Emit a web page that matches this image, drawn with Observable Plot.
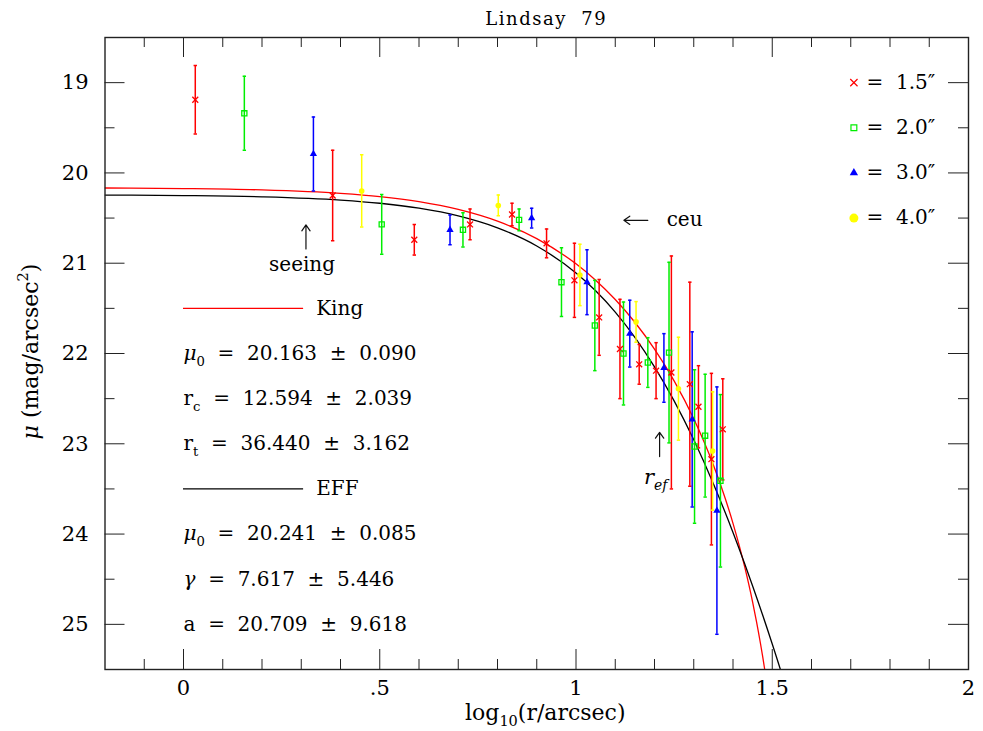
<!DOCTYPE html>
<html>
<head>
<meta charset="utf-8">
<script src="https://cdn.jsdelivr.net/npm/d3@7"></script>
<script src="https://cdn.jsdelivr.net/npm/@observablehq/plot@0.6"></script>
<style>
  html, body { margin: 0; padding: 0; background: #fff; }
  #chart svg { display: block; }
</style>
</head>
<body>
<div id="chart"></div>
<script>
// ---------------- data ----------------
const titleText = "Lindsay  79";
const xAxisTitle = "log_{10}(r/arcsec)";
const yAxisTitle = "*{μ} (mag/arcsec^{2})";

const xTicksMajor = [0, 0.5, 1, 1.5, 2];
const xTickLabels = ["0", ".5", "1", "1.5", "2"];
const xTicksMinor = [-0.1, 0.1, 0.2, 0.3, 0.4, 0.6, 0.7, 0.8, 0.9, 1.1, 1.2, 1.3, 1.4, 1.6, 1.7, 1.8, 1.9];
const yTicksMajor = [19, 20, 21, 22, 23, 24, 25];
const yTicksMinor = [19.5, 20.5, 21.5, 22.5, 23.5, 24.5];

const seriesNames = ["1.5″", "2.0″", "3.0″", "4.0″"];

// aperture 1.5"
const s15_logr = [0.030, 0.380, 0.588, 0.730, 0.837, 0.925, 0.996, 1.059, 1.112, 1.161, 1.204, 1.243, 1.290, 1.312, 1.345, 1.374];
const s15_mu   = [19.19, 20.25, 20.74, 20.57, 20.46, 20.78, 21.19, 21.60, 21.95, 22.12, 22.19, 22.21, 22.34, 22.59, 23.17, 22.84];
const s15_err  = [0.38, 0.50, 0.17, 0.17, 0.125, 0.16, 0.41, 0.42, 0.55, 0.22, 0.31, 1.29, 1.13, 0.455, 0.95, 0.56];
// aperture 2.0"
const s20_logr = [0.155, 0.505, 0.712, 0.855, 0.963, 1.048, 1.121, 1.183, 1.237, 1.302, 1.329, 1.368];
const s20_mu   = [19.34, 20.57, 20.63, 20.52, 21.21, 21.69, 22.00, 22.10, 21.99, 23.03, 22.91, 23.41];
const s20_err  = [0.41, 0.33, 0.19, 0.12, 0.38, 0.50, 0.57, 0.275, 1.00, 0.85, 0.68, 0.955];
// aperture 3.0"
const s30_logr = [0.331, 0.679, 0.887, 1.028, 1.137, 1.224, 1.296, 1.359];
const s30_mu   = [19.79, 20.63, 20.50, 21.21, 21.78, 22.16, 22.73, 23.74];
const s30_err  = [0.41, 0.165, 0.11, 0.36, 0.37, 0.38, 0.97, 1.37];
// aperture 4.0"
const s40_logr = [0.454, 0.802, 1.010, 1.153, 1.261, 1.348];
const s40_mu   = [20.20, 20.36, 21.13, 21.65, 22.39, 23.08];
const s40_err  = [0.40, 0.115, 0.34, 0.225, 0.57, 0.655];

// King fit curve
const king_logr = [-0.2, 0, 0.2, 0.4, 0.5, 0.6, 0.7, 0.8, 0.9, 1.0, 1.05, 1.1, 1.15, 1.2, 1.25, 1.3, 1.35, 1.4, 1.43, 1.45, 1.46, 1.47, 1.48, 1.49];
const king_mu   = [20.167, 20.173, 20.188, 20.226, 20.262, 20.318, 20.405, 20.535, 20.728, 21.007, 21.188, 21.402, 21.654, 21.952, 22.303, 22.723, 23.235, 23.881, 24.367, 24.753, 24.972, 25.212, 25.478, 25.777];
// EFF fit curve
const eff_logr = [-0.2, 0, 0.2, 0.4, 0.5, 0.6, 0.7, 0.8, 0.9, 1.0, 1.05, 1.1, 1.15, 1.2, 1.25, 1.3, 1.35, 1.4, 1.43, 1.45, 1.5, 1.55];
const eff_mu   = [20.245, 20.251, 20.265, 20.301, 20.336, 20.391, 20.476, 20.608, 20.809, 21.108, 21.305, 21.541, 21.821, 22.148, 22.525, 22.956, 23.442, 23.982, 24.332, 24.575, 25.217, 25.906];

// fit parameters
const kingName = "King";
const kingParamNames = ["*{μ}_{0}", "r_{c}", "r_{t}"];
const kingParamVals  = [20.163, 12.594, 36.440];
const kingParamErrs  = [0.090, 2.039, 3.162];
const effName = "EFF";
const effParamNames = ["*{μ}_{0}", "*{γ}", "a"];
const effParamVals  = [20.241, 7.617, 20.709];
const effParamErrs  = [0.085, 5.446, 9.618];

// annotations
const noteLabels = ["seeing", "ceu", "r_{ef}"];
const noteArrowFrom = [[0.312, 20.842], [1.183, 20.525], [1.213, 23.142]];
const noteArrowTo   = [[0.312, 20.576], [1.122, 20.525], [1.213, 22.873]];
const noteTextAt    = [[0.302, 21.01], [1.231, 20.515], [1.203, 23.37]];

// ---------------- layout / style ----------------
const W = 983, H = 731;
const mL = 104.5, mR = 15, mT = 37, mB = 62;
const FH = H - mT - mB, FW = W - mL - mR;
const MAJ = 20, MIN = 10;
const FONT = "'DejaVu Serif', 'Liberation Serif', serif";
const tickColor = "#222";
const greenCol = "#00ee00";

const mk = (lx, mu, er) => lx.map((x, i) => ({x, mu: mu[i], err: er[i]}));
const series = [
  {name: seriesNames[0], color: "#ff0000", rows: mk(s15_logr, s15_mu, s15_err), symbol: "times",  filled: false, r: 2.8, lr: 3.4},
  {name: seriesNames[1], color: greenCol,  rows: mk(s20_logr, s20_mu, s20_err), symbol: "square", filled: false, r: 2.9, lr: 3.3},
  {name: seriesNames[2], color: "#0000ff", rows: mk(s30_logr, s30_mu, s30_err), symbol: "triangle", filled: true, r: 2.7, lr: 3.1},
  {name: seriesNames[3], color: "#ffff00", rows: mk(s40_logr, s40_mu, s40_err), symbol: "circle", filled: true, r: 2.8, lr: 4.5}
];

const capSymbol = {draw(ctx) { ctx.moveTo(-1.7, 0); ctx.lineTo(1.7, 0); }};

const kingLine = king_logr.map((x, i) => ({x, mu: king_mu[i]}));
const effLine  = eff_logr.map((x, i) => ({x, mu: eff_mu[i]}));

const fmtRow = (n, v, e) => `${n}  =  ${v.toFixed(3)}  ±  ${e.toFixed(3)}`;

// positions for legend & text blocks (in data units)
const legendMarkX = 1.708, legendTextX = 1.740, legendY0 = 19, legendStep = 0.5;
const blockX = 0.0, blockLineX2 = 0.306, blockNameX = 0.338;
const kingRowY = 21.5, effRowY = 23.5, rowStep = 0.5;

const legendRows = series.map((s, i) => ({...s, y: legendY0 + i * legendStep, label: `=  ${s.name}`}));

const textRows = [
  ...kingParamNames.map((n, i) => ({y: kingRowY + (i + 1) * rowStep, text: fmtRow(n, kingParamVals[i], kingParamErrs[i])})),
  ...effParamNames.map((n, i) => ({y: effRowY + (i + 1) * rowStep, text: fmtRow(n, effParamVals[i], effParamErrs[i])}))
];

const arrows = noteLabels.map((l, i) => ({x1: noteArrowFrom[i][0], y1: noteArrowFrom[i][1], x2: noteArrowTo[i][0], y2: noteArrowTo[i][1]}));
const notes = noteLabels.map((l, i) => ({x: noteTextAt[i][0], y: noteTextAt[i][1], text: l, anchor: i === 1 ? "start" : "middle", italic: i === 2}));

// ---------------- marks ----------------
const marks = [];

marks.push(Plot.line(kingLine, {x: "x", y: "mu", stroke: "#ff0000", strokeWidth: 1.3, curve: "monotone-x", clip: true}));
marks.push(Plot.line(effLine,  {x: "x", y: "mu", stroke: "#000000", strokeWidth: 1.3, curve: "monotone-x", clip: true}));

for (const s of series) {
  marks.push(Plot.ruleX(s.rows, {x: "x", y1: d => d.mu - d.err, y2: d => d.mu + d.err, stroke: s.color, strokeWidth: 1.5, clip: true}));
  marks.push(Plot.dot(s.rows, {x: "x", y: d => d.mu - d.err, symbol: capSymbol, r: 2, stroke: s.color, fill: "none", strokeWidth: 1.5, clip: true}));
  marks.push(Plot.dot(s.rows, {x: "x", y: d => d.mu + d.err, symbol: capSymbol, r: 2, stroke: s.color, fill: "none", strokeWidth: 1.5, clip: true}));
}
for (const s of series) {
  marks.push(Plot.dot(s.rows, s.filled
    ? {x: "x", y: "mu", symbol: s.symbol, r: s.r, fill: s.color, stroke: "none"}
    : {x: "x", y: "mu", symbol: s.symbol, r: s.r, fill: "none", stroke: s.color, strokeWidth: 1.3}));
}

for (const s of legendRows) {
  marks.push(Plot.dot([s], s.filled
    ? {x: () => legendMarkX, y: "y", symbol: s.symbol, r: s.lr, fill: s.color, stroke: "none"}
    : {x: () => legendMarkX, y: "y", symbol: s.symbol, r: s.lr, fill: "none", stroke: s.color, strokeWidth: 1.2}));
}
marks.push(Plot.text(legendRows, {x: () => legendTextX, y: "y", text: "label", textAnchor: "start", fontSize: 20, fill: "black"}));

marks.push(Plot.ruleY([kingRowY], {y: d => d, x1: () => blockX, x2: () => blockLineX2, stroke: "#ff0000", strokeWidth: 1.3}));
marks.push(Plot.ruleY([effRowY],  {y: d => d, x1: () => blockX, x2: () => blockLineX2, stroke: "#000000", strokeWidth: 1.3}));
marks.push(Plot.text([{y: kingRowY, t: kingName}, {y: effRowY, t: effName}], {x: () => blockNameX, y: "y", text: "t", textAnchor: "start", fontSize: 20, fill: "black"}));
marks.push(Plot.text(textRows, {x: () => blockX, y: "y", text: "text", textAnchor: "start", fontSize: 20, fill: "black"}));

marks.push(Plot.arrow(arrows, {x1: "x1", y1: "y1", x2: "x2", y2: "y2", stroke: "#111", strokeWidth: 1.2, headLength: 9, headAngle: 70}));
marks.push(Plot.text(notes.filter(d => !d.italic && d.anchor === "middle"), {x: "x", y: "y", text: "text", textAnchor: "middle", fontSize: 20, fill: "black"}));
marks.push(Plot.text(notes.filter(d => d.anchor === "start"), {x: "x", y: "y", text: "text", textAnchor: "start", fontSize: 20, fill: "black"}));
marks.push(Plot.text(notes.filter(d => d.italic), {x: "x", y: "y", text: "text", textAnchor: "middle", fontSize: 21, fontStyle: "italic", fill: "black"}));

const xMaj = xTicksMajor.filter(d => d > -0.2 && d < 2);
marks.push(Plot.ruleX(xMaj, {x: d => d, insetTop: FH - MAJ, stroke: tickColor, strokeWidth: 1}));
marks.push(Plot.ruleX(xMaj, {x: d => d, insetBottom: FH - MAJ, stroke: tickColor, strokeWidth: 1}));
marks.push(Plot.ruleX(xTicksMinor, {x: d => d, insetTop: FH - MIN, stroke: tickColor, strokeWidth: 1}));
marks.push(Plot.ruleX(xTicksMinor, {x: d => d, insetBottom: FH - MIN, stroke: tickColor, strokeWidth: 1}));
marks.push(Plot.ruleY(yTicksMajor, {y: d => d, insetRight: FW - MAJ, stroke: tickColor, strokeWidth: 1}));
marks.push(Plot.ruleY(yTicksMajor, {y: d => d, insetLeft: FW - MAJ, stroke: tickColor, strokeWidth: 1}));
marks.push(Plot.ruleY(yTicksMinor, {y: d => d, insetRight: FW - MIN, stroke: tickColor, strokeWidth: 1}));
marks.push(Plot.ruleY(yTicksMinor, {y: d => d, insetLeft: FW - MIN, stroke: tickColor, strokeWidth: 1}));

marks.push(Plot.frame({stroke: "#222", strokeWidth: 1.4}));

marks.push(Plot.text([titleText], {frameAnchor: "top", lineAnchor: "middle", textAnchor: "middle", dy: -17.8, dx: 9.5, fontSize: 18, fill: "black", className: "ttl"}));
marks.push(Plot.text([xAxisTitle], {frameAnchor: "bottom", lineAnchor: "middle", textAnchor: "middle", dy: 43, dx: 8.5, fontSize: 22, fill: "black"}));
marks.push(Plot.text([yAxisTitle], {frameAnchor: "left", lineAnchor: "middle", textAnchor: "middle", rotate: -90, dx: -74.5, dy: -2, fontSize: 22, fill: "black"}));

const chart = Plot.plot({
  width: W, height: H,
  marginLeft: mL, marginRight: mR, marginTop: mT, marginBottom: mB,
  style: {fontFamily: FONT, fontSize: "21px", background: "white", color: "black"},
  x: {domain: [-0.2, 2], ticks: xTicksMajor, tickFormat: d => xTickLabels[xTicksMajor.indexOf(d)], tickSize: 0, tickPadding: 11, label: null},
  y: {domain: [18.5, 25.5], reverse: true, ticks: yTicksMajor, tickFormat: d => String(d), tickSize: 0, tickPadding: 16.5, label: null},
  marks
});

document.getElementById("chart").appendChild(chart);

// rich text: _{sub}, ^{sup}, *{italic}
function richify(root) {
  root.querySelectorAll("text").forEach(t => {
    const s = t.textContent;
    if (!/[_^*]\{/.test(s)) return;
    const fs = parseFloat(getComputedStyle(t).fontSize) || 20;
    while (t.firstChild) t.removeChild(t.firstChild);
    const re = /([_^*])\{([^}]*)\}/g;
    let last = 0, m, shift = 0;
    const add = (str, kind) => {
      if (!str) return;
      const sp = document.createElementNS("http://www.w3.org/2000/svg", "tspan");
      const target = kind === "_" ? 0.28 * fs : kind === "^" ? -0.42 * fs : 0;
      sp.setAttribute("dy", (target - shift).toFixed(2));
      shift = target;
      if (kind === "_" || kind === "^") sp.setAttribute("font-size", (0.66 * fs).toFixed(1));
      if (kind === "*") sp.setAttribute("font-style", "italic");
      sp.textContent = str;
      t.appendChild(sp);
    };
    while ((m = re.exec(s))) { add(s.slice(last, m.index), null); add(m[2], m[1]); last = re.lastIndex; }
    add(s.slice(last), null);
  });
}
richify(chart);
chart.querySelectorAll(".ttl text, g.ttl text").forEach(t => t.style.letterSpacing = "1.5px");
chart.querySelectorAll("text").forEach(t => { t.style.whiteSpace = "pre"; });
</script>
</body>
</html>
